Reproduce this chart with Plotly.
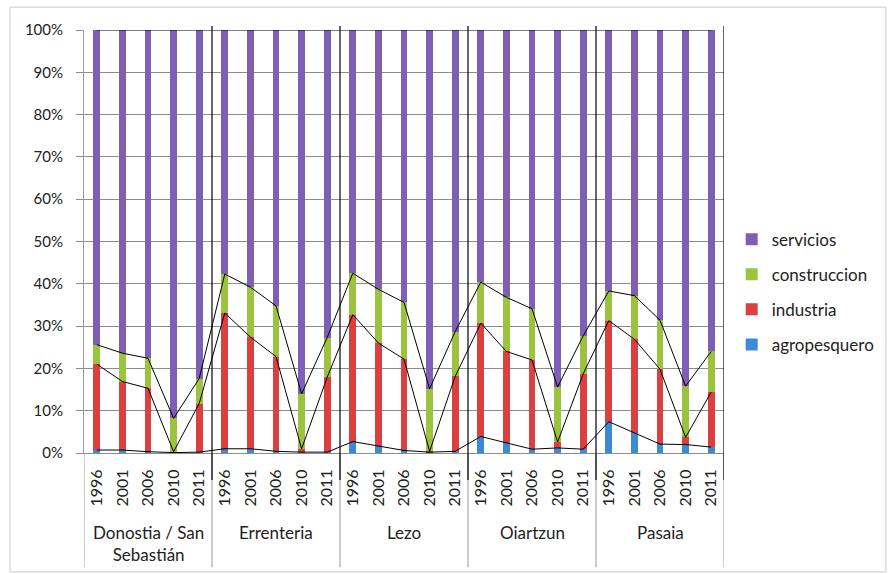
import numpy as np
import plotly.graph_objects as go

groups = ["Donostia / San<br>Sebastián", "Errenteria", "Lezo", "Oiartzun", "Pasaia"]
years = ["1996", "2001", "2006", "2010", "2011"]

# sector shares (%) for each municipality / year, in order of groups x years
agropesquero = [0.7, 0.7, 0.3, 0.1, 0.2,
                1.0, 1.0, 0.4, 0.2, 0.2,
                2.7, 1.6, 0.6, 0.2, 0.4,
                3.9, 2.4, 0.9, 1.2, 0.9,
                7.4, 4.8, 2.1, 2.0, 1.4]
industria = [20.3, 16.2, 15.0, 0.2, 11.5,
             32.1, 26.4, 22.4, 0.8, 17.7,
             30.0, 24.4, 21.6, 0.2, 17.7,
             26.8, 21.6, 21.1, 1.4, 17.8,
             23.9, 22.1, 17.7, 1.7, 13.0]
construccion = [4.6, 6.7, 7.1, 7.9, 5.9,
                9.2, 11.8, 12.0, 13.0, 9.4,
                9.8, 12.7, 13.4, 14.8, 10.6,
                9.7, 12.8, 12.1, 13.0, 9.0,
                7.0, 10.3, 11.6, 12.1, 9.6]
servicios = [74.4, 76.4, 77.6, 91.8, 82.4,
             57.7, 60.8, 65.2, 86.0, 72.7,
             57.5, 61.3, 64.4, 84.8, 71.3,
             59.6, 63.2, 65.9, 84.4, 72.3,
             61.7, 62.8, 68.6, 84.2, 76.0]

series = [
    ("agropesquero", agropesquero, "#3C8AD4", 4),
    ("industria", industria, "#DC3F3F", 3),
    ("construccion", construccion, "#9BC33F", 2),
    ("servicios", servicios, "#7E5FB5", 1),
]

n = len(groups) * len(years)
xs = list(range(n))
ticktext = years * len(groups)

fig = go.Figure()
totals = np.array([a + b + c + d for a, b, c, d in zip(agropesquero, industria, construccion, servicios)])
for name, vals, color, rank in series:
    frac = np.array(vals) / totals
    fig.add_trace(go.Bar(x=xs, y=frac, name=name, marker=dict(color=color, line=dict(width=0)),
                         legendgroup=name, legendrank=rank))

cum = np.zeros(n)
for name, vals, color, rank in series:
    cum = cum + np.array(vals) / totals
    fig.add_trace(go.Scatter(x=xs, y=cum.copy(), mode="lines", line=dict(color="black", width=1),
                             showlegend=False, hoverinfo="skip"))

FONT = "Lato, 'Open Sans', sans-serif"

shapes = []
# group dividers below axis (grey)
for k in range(len(groups) + 1):
    xv = k * len(years) - 0.5
    shapes.append(dict(type="line", xref="x", yref="paper", x0=xv, x1=xv, y0=0, y1=-0.27,
                       line=dict(color="#9a9a9a", width=1)))
# black separators between municipalities
for k in range(1, len(groups) + 1):
    xv = k * len(years) - 0.5
    shapes.append(dict(type="line", xref="x", yref="paper", x0=xv, x1=xv, y0=1.0095, y1=-0.064,
                       line=dict(color="black", width=1.2)))
# chart border
shapes.append(dict(type="rect", xref="paper", yref="paper", x0=-0.1156, x1=1.253, y0=-0.281, y1=1.054,
                   line=dict(color="#c8c8c8", width=1)))

annotations = []
for k, g in enumerate(groups):
    annotations.append(dict(x=k * len(years) + 2, y=-0.187 if "<br>" not in g else -0.214,
                            xref="x", yref="paper", text=g, showarrow=False,
                            font=dict(family=FONT, size=17, color="#222"), yanchor="middle"))

fig.update_layout(
    width=888, height=574,
    margin=dict(l=84, r=164, t=30, b=121, autoexpand=False),
    barmode="stack", bargap=0.73,
    plot_bgcolor="white", paper_bgcolor="white",
    font=dict(family=FONT, size=15, color="#222"),
    showlegend=True,
    legend=dict(x=1.012, y=0.547, xanchor="left", yanchor="top", traceorder="grouped",
                tracegroupgap=10, font=dict(family=FONT, size=17, color="#222"),
                bgcolor="rgba(0,0,0,0)"),
    shapes=shapes, annotations=annotations,
)
fig.update_xaxes(range=[-0.5, n - 0.5], tickmode="array", tickvals=xs, ticktext=ticktext,
                 tickangle=-90, ticks="", showgrid=False, showline=True, linecolor="#8c8c8c",
                 linewidth=1, ticklabelstandoff=9, tickfont=dict(family=FONT, size=16, color="#222"),
                 zeroline=False)
fig.update_yaxes(range=[0, 1], tickformat=".0%", dtick=0.1, showgrid=True, gridcolor="#8c8c8c",
                 gridwidth=1, ticks="outside", ticklen=7, tickcolor="#8c8c8c", showline=True,
                 linecolor="#9a9a9a", zeroline=False, ticklabelstandoff=10,
                 tickfont=dict(family=FONT, size=15, color="#222"))

fig.write_html("out.html")
